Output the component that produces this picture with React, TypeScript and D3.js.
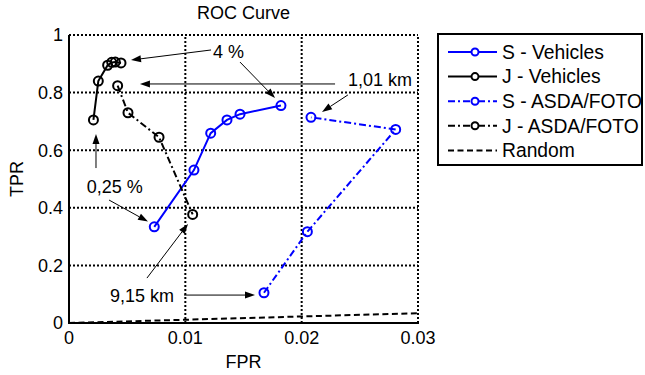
import React from "react";
import * as d3 from "d3";

const xTicks = [0, 0.01, 0.02, 0.03];
const yTicks = [0, 0.2, 0.4, 0.6, 0.8, 1];
const xTickLabels = ["0", "0.01", "0.02", "0.03"];
const yTickLabels = ["0", "0.2", "0.4", "0.6", "0.8", "1"];

const sVehicles: [number, number][] = [
  [0.00733, 0.334], [0.01074, 0.531], [0.01218, 0.659], [0.01358, 0.705], [0.0147, 0.725], [0.01822, 0.755],
];
const jVehicles: [number, number][] = [
  [0.0021, 0.705], [0.00252, 0.84], [0.00332, 0.895], [0.00367, 0.905], [0.00398, 0.906], [0.00447, 0.903],
];
const sAsda: [number, number][] = [
  [0.01676, 0.105], [0.02049, 0.317], [0.02808, 0.672], [0.0208, 0.714],
];
const jAsda: [number, number][] = [
  [0.00418, 0.824], [0.00507, 0.73], [0.00774, 0.645], [0.01063, 0.377],
];
const randomLine: [number, number][] = [[0, 0], [0.03, 0.034]];

const seriesNames = ["S - Vehicles", "J - Vehicles", "S - ASDA/FOTO", "J - ASDA/FOTO", "Random"];
const seriesColors = ["#0000ff", "#000000", "#0000ff", "#000000", "#000000"];
const seriesDash = [null, null, "7,3,2,3", "7,3,2,3", "6,3.5"];
const seriesMarkers = [true, true, true, true, false];
const seriesData = [sVehicles, jVehicles, sAsda, jAsda, randomLine];

const annotationTexts = ["4 %", "1,01 km", "0,25 %", "9,15 km"];
const annotationPos: [number, number][] = [
  [0.01238, 0.942], [0.02398, 0.844], [0.00152, 0.473], [0.00352, 0.094],
];
const arrows: [number, number, number, number][] = [
  [0.01221, 0.948, 0.00533, 0.913],
  [0.0147, 0.906, 0.01771, 0.781],
  [0.02287, 0.83, 0.0061, 0.83],
  [0.02398, 0.792, 0.02175, 0.733],
  [0.00232, 0.538, 0.00232, 0.656],
  [0.00344, 0.427, 0.00679, 0.352],
  [0.00989, 0.097, 0.01599, 0.097],
  [0.0067, 0.156, 0.01023, 0.344],
];

const W = 645, H = 375;
const FONT = "'Liberation Sans', Arial, Helvetica, sans-serif";

export default function App() {
  const x = d3.scaleLinear().domain([0, 0.03]).range([69, 418]);
  const y = d3.scaleLinear().domain([0, 1]).range([323, 35]);
  const line = d3.line<[number, number]>().x(d => x(d[0])).y(d => y(d[1]));

  const arrowHead = (x1: number, y1: number, x2: number, y2: number) => {
    const ang = Math.atan2(y2 - y1, x2 - x1);
    const L = 10, hw = 3.5;
    const bx = x2 - L * Math.cos(ang), by = y2 - L * Math.sin(ang);
    const px = -Math.sin(ang) * hw, py = Math.cos(ang) * hw;
    return { pts: `${x2},${y2} ${bx + px},${by + py} ${bx - px},${by - py}`, bx, by };
  };

  const legendY0 = 52, legendDy = 24.6;

  return (
    <svg width={W} height={H} style={{ position: "absolute", left: 0, top: 0, background: "#fff" }} fontFamily={FONT}>
      <rect width={W} height={H} fill="#fff" />
      <defs>
        <clipPath id="plotclip">
          <rect x={69} y={35} width={349} height={288} />
        </clipPath>
      </defs>
      {xTicks.slice(1).map((t, i) => (
        <line key={"gx" + i} x1={x(t)} x2={x(t)} y1={y(0)} y2={y(1)} stroke="#000" strokeWidth={2} strokeDasharray="2,2" />
      ))}
      {yTicks.slice(1).map((t, i) => (
        <line key={"gy" + i} x1={x(0)} x2={x(0.03)} y1={y(t)} y2={y(t)} stroke="#000" strokeWidth={2} strokeDasharray="2,2" />
      ))}
      <g clipPath="url(#plotclip)">
        {seriesData.map((d, i) => (
          <g key={"s" + i}>
            <path d={line(d) || ""} fill="none" stroke={seriesColors[i]} strokeWidth={2}
              strokeDasharray={seriesDash[i] || undefined} />
            {seriesMarkers[i] && d.map((p, j) => (
              <circle key={j} cx={x(p[0])} cy={y(p[1])} r={4.5} fill="none" stroke={seriesColors[i]} strokeWidth={2} />
            ))}
          </g>
        ))}
      </g>
      <line x1={x(0)} x2={x(0)} y1={y(0) + 1} y2={y(1)} stroke="#000" strokeWidth={2} />
      <line x1={x(0) - 1} x2={x(0.03) + 1} y1={y(0)} y2={y(0)} stroke="#000" strokeWidth={2} />
      {xTicks.map((t, i) => (
        <text key={"xt" + i} x={x(t)} y={344} textAnchor="middle" fontSize={18} fill="#000">{xTickLabels[i]}</text>
      ))}
      {yTicks.map((t, i) => (
        <text key={"yt" + i} x={63} y={y(t)} dy="0.35em" textAnchor="end" fontSize={18} fill="#000">{yTickLabels[i]}</text>
      ))}
      <text x={243.5} y={368} textAnchor="middle" fontSize={18} fill="#000">FPR</text>
      <text transform={`translate(23,179) rotate(-90)`} textAnchor="middle" fontSize={18} fill="#000">TPR</text>
      <text x={243.5} y={19} textAnchor="middle" fontSize={18} fill="#000">ROC Curve</text>
      {arrows.map((a, i) => {
        const x1 = x(a[0]), y1 = y(a[1]), x2 = x(a[2]), y2 = y(a[3]);
        const h = arrowHead(x1, y1, x2, y2);
        return (
          <g key={"a" + i}>
            <line x1={x1} y1={y1} x2={h.bx} y2={h.by} stroke="#000" strokeWidth={1} />
            <polygon points={h.pts} fill="#000" />
          </g>
        );
      })}
      {annotationTexts.map((t, i) => (
        <text key={"at" + i} x={x(annotationPos[i][0])} y={y(annotationPos[i][1])} dy="0.35em" fontSize={18} fill="#000">{t}</text>
      ))}
      <rect x={438} y={34} width={204} height={131} fill="#fff" stroke="#000" strokeWidth={2} />
      {seriesNames.map((n, i) => {
        const ly = legendY0 + i * legendDy;
        return (
          <g key={"l" + i}>
            <line x1={448} x2={497} y1={ly} y2={ly} stroke={seriesColors[i]} strokeWidth={2}
              strokeDasharray={seriesDash[i] || undefined} />
            {seriesMarkers[i] && <circle cx={475} cy={ly} r={3.5} fill="#fff" stroke={seriesColors[i]} strokeWidth={2} />}
            <text x={502} y={ly} dy="0.35em" fontSize={19.3} fill="#000">{n}</text>
          </g>
        );
      })}
    </svg>
  );
}
